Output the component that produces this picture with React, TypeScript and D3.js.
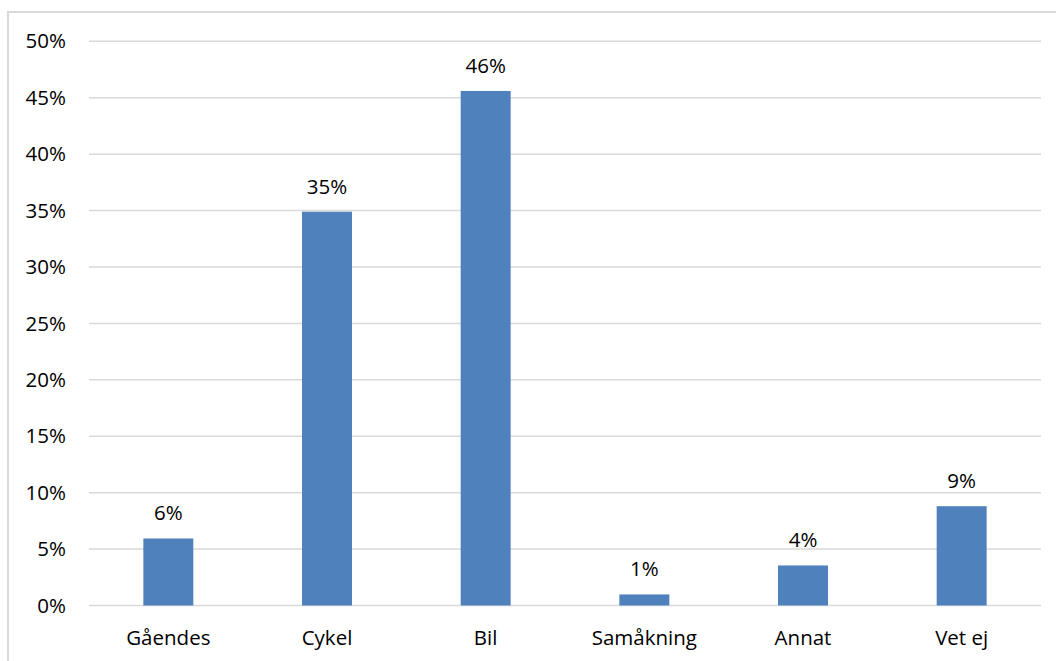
import React, { useEffect, useRef } from "react";
import * as d3 from "d3";

const categories = ["Gåendes", "Cykel", "Bil", "Samåkning", "Annat", "Vet ej"];
const values = [5.94, 34.9, 45.6, 0.98, 3.55, 8.8];
const yTicks = [0, 5, 10, 15, 20, 25, 30, 35, 40, 45, 50];

const W = 1056;
const H = 661;
const margin = { left: 89, right: 15, top: 41.3, bottom: 55.5 };
const FONT = "'Open Sans', 'Liberation Sans', sans-serif";
const FS = 20.5;

export default function App() {
  const ref = useRef<SVGSVGElement>(null);

  useEffect(() => {
    const svg = d3.select(ref.current);
    svg.selectAll("*").remove();

    svg
      .append("rect")
      .attr("x", 8)
      .attr("y", 12)
      .attr("width", W + 20)
      .attr("height", H + 20)
      .attr("fill", "white")
      .attr("stroke", "#d9d9d9")
      .attr("stroke-width", 2);

    const x = d3
      .scaleBand<string>()
      .domain(categories)
      .range([margin.left, W - margin.right])
      .paddingInner(0.685)
      .paddingOuter(0.3425);

    const y = d3
      .scaleLinear()
      .domain([0, 50])
      .range([H - margin.bottom, margin.top]);

    const g = svg.append("g");

    g.selectAll("line.grid")
      .data(yTicks)
      .join("line")
      .attr("class", "grid")
      .attr("x1", margin.left)
      .attr("x2", W - margin.right)
      .attr("y1", (d) => y(d))
      .attr("y2", (d) => y(d))
      .attr("stroke", "#d9d9d9")
      .attr("stroke-width", 1.5);

    g.selectAll("text.ytick")
      .data(yTicks)
      .join("text")
      .attr("class", "ytick")
      .attr("x", 66)
      .attr("y", (d) => y(d))
      .attr("dy", "0.35em")
      .attr("text-anchor", "end")
      .attr("font-family", FONT)
      .attr("font-size", FS)
      .attr("fill", "#000")
      .text((d) => `${d}%`);

    g.selectAll("rect.bar")
      .data(values)
      .join("rect")
      .attr("class", "bar")
      .attr("x", (_, i) => x(categories[i])!)
      .attr("width", x.bandwidth())
      .attr("y", (d) => y(d))
      .attr("height", (d) => y(0) - y(d))
      .attr("fill", "#4F81BD");

    g.selectAll("text.val")
      .data(values)
      .join("text")
      .attr("class", "val")
      .attr("x", (_, i) => x(categories[i])! + x.bandwidth() / 2)
      .attr("y", (d) => y(d) - 18)
      .attr("text-anchor", "middle")
      .attr("font-family", FONT)
      .attr("font-size", FS)
      .attr("fill", "#000")
      .text((d) => `${Math.round(d)}%`);

    g.selectAll("text.cat")
      .data(categories)
      .join("text")
      .attr("class", "cat")
      .attr("x", (d) => x(d)! + x.bandwidth() / 2)
      .attr("y", 638)
      .attr("dy", "0.35em")
      .attr("text-anchor", "middle")
      .attr("font-family", FONT)
      .attr("font-size", FS)
      .attr("fill", "#000")
      .text((d) => d);
  }, []);

  return (
    <svg
      ref={ref}
      width={W}
      height={H}
      style={{ position: "fixed", left: 0, top: 0, background: "white" }}
    />
  );
}
